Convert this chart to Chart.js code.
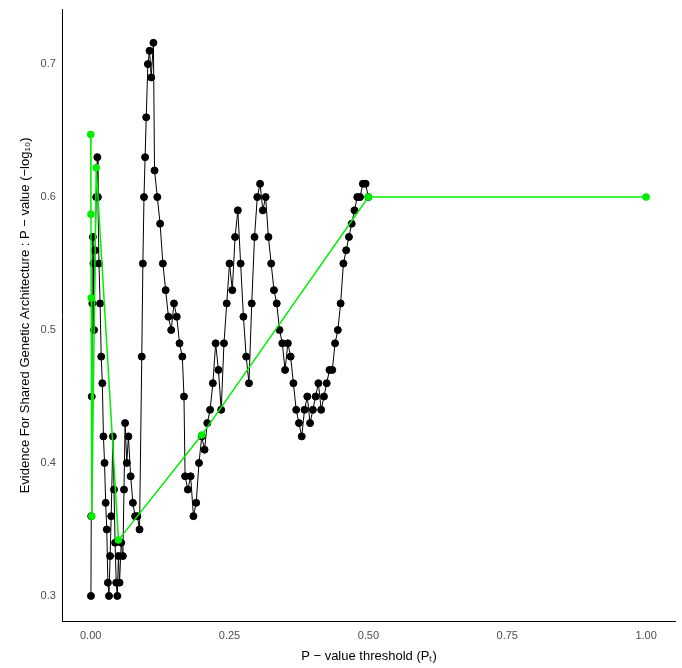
<!DOCTYPE html>
<html>
<head>
<meta charset="UTF-8">
<script src="https://cdn.jsdelivr.net/npm/chart.js"></script>
<style>
  body { margin: 0; background: #fff; }
  #wrap { width: 682px; height: 668px; }
</style>
</head>
<body>
<div id="wrap"><canvas id="c"></canvas></div>
<script>
  // black trace: p-value threshold vs fit
  const thrX = [0.0005,0.001,0.002,0.003,0.004,0.005,0.006,0.008,0.010,0.012,0.013,0.015,0.017,0.019,0.021,0.023,0.025,0.027,0.029,0.031,0.033,0.035,0.037,0.040,0.042,0.044,0.046,0.048,0.050,0.052,0.055,0.058,0.060,0.062,0.065,0.068,0.072,0.076,0.080,0.084,0.088,0.092,0.094,0.096,0.098,0.100,0.103,0.106,0.109,0.113,0.115,0.120,0.125,0.130,0.135,0.140,0.145,0.150,0.155,0.160,0.165,0.168,0.170,0.175,0.180,0.185,0.190,0.195,0.200,0.205,0.210,0.215,0.220,0.225,0.230,0.235,0.240,0.245,0.250,0.255,0.260,0.265,0.270,0.275,0.280,0.285,0.290,0.295,0.300,0.305,0.310,0.315,0.320,0.325,0.330,0.335,0.340,0.345,0.350,0.355,0.360,0.365,0.370,0.375,0.380,0.385,0.390,0.395,0.400,0.405,0.410,0.415,0.420,0.425,0.430,0.435,0.440,0.445,0.450,0.455,0.460,0.465,0.470,0.475,0.480,0.485,0.490,0.495,0.500];
  const thrY = [0.30,0.36,0.45,0.52,0.57,0.55,0.50,0.56,0.60,0.63,0.60,0.55,0.52,0.48,0.46,0.42,0.40,0.37,0.35,0.31,0.30,0.33,0.36,0.42,0.38,0.34,0.31,0.30,0.33,0.31,0.34,0.33,0.38,0.43,0.40,0.42,0.39,0.37,0.36,0.36,0.35,0.48,0.55,0.60,0.63,0.66,0.70,0.71,0.69,0.716,0.62,0.60,0.58,0.55,0.53,0.51,0.50,0.52,0.51,0.49,0.48,0.45,0.39,0.38,0.39,0.36,0.37,0.40,0.42,0.41,0.43,0.44,0.46,0.49,0.47,0.44,0.49,0.52,0.55,0.53,0.57,0.59,0.55,0.51,0.48,0.46,0.52,0.57,0.60,0.61,0.59,0.60,0.57,0.55,0.53,0.52,0.50,0.49,0.47,0.49,0.48,0.46,0.44,0.43,0.42,0.44,0.45,0.43,0.44,0.45,0.46,0.44,0.45,0.46,0.47,0.47,0.49,0.50,0.52,0.55,0.56,0.57,0.58,0.59,0.60,0.60,0.61,0.61,0.60];
  // green: selected thresholds
  const barX = [0.0001,0.0005,0.001,0.002,0.01,0.05,0.2,0.5,1.0];
  const barY = [0.647,0.587,0.524,0.36,0.622,0.342,0.421,0.600,0.600];
  const xTicks = [0,0.25,0.5,0.75,1];
  const yTicks = [0.3,0.4,0.5,0.6,0.7];

  const pts = (xs, ys) => xs.map((x, i) => ({ x: x, y: ys[i] }));

  new Chart(document.getElementById('c'), {
    type: 'scatter',
    data: {
      datasets: [
        { data: pts(barX, barY), showLine: true, borderColor: '#00ee00', backgroundColor: '#00ee00',
          borderWidth: 1.5, pointRadius: 3, order: 0 },
        { data: pts(thrX, thrY), showLine: true, borderColor: '#000', backgroundColor: '#000',
          borderWidth: 1, pointRadius: 3.5, order: 1 }
      ]
    },
    options: {
      responsive: true, maintainAspectRatio: false, animation: false,
      layout: { padding: { top: 0, right: 7, left: 14, bottom: 0 } },
      plugins: { legend: { display: false }, tooltip: { enabled: false } },
      scales: {
        x: {
          type: 'linear', min: -0.05, max: 1.052,
          afterBuildTicks: ax => { ax.ticks = xTicks.map(v => ({ value: v })); },
          ticks: { callback: v => v.toFixed(2), color: '#4d4d4d', padding: 4, font: { family: 'Liberation Sans', size: 11 } },
          grid: { display: false, drawTicks: true, tickLength: 4, tickColor: '#333' },
          border: { color: '#000', width: 1 },
          title: { display: true, text: 'P \u2212 value threshold (P\u209C)', color: '#000', padding: { top: 2, bottom: 4 }, font: { family: 'Liberation Sans', size: 13 } }
        },
        y: {
          min: 0.281, max: 0.741,
          afterBuildTicks: ax => { ax.ticks = yTicks.map(v => ({ value: v })); },
          ticks: { callback: v => v.toFixed(1), color: '#4d4d4d', font: { family: 'Liberation Sans', size: 11 } },
          grid: { display: false, drawTicks: true, tickLength: 4, tickColor: '#333' },
          border: { color: '#000', width: 1 },
          title: { display: true, text: 'Evidence For Shared Genetic Architecture : P \u2212 value (\u2212log\u2081\u2080)', color: '#000', font: { family: 'Liberation Sans', size: 13 } }
        }
      }
    }
  });
</script>
</body>
</html>
